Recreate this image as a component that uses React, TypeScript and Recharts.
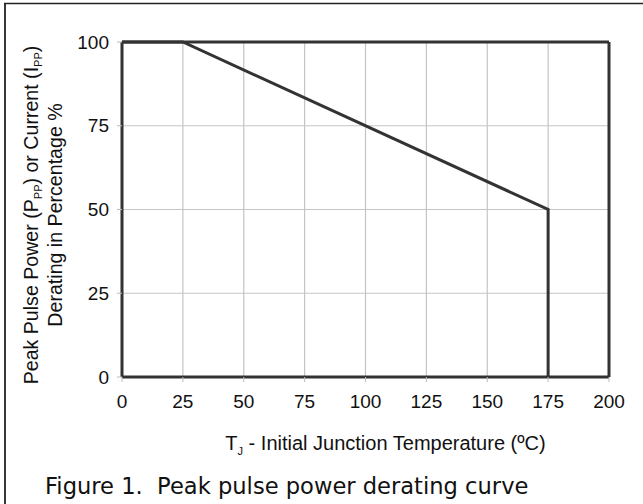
import React from 'react';
import { LineChart, Line, XAxis, YAxis, CartesianGrid, ReferenceLine, Label } from 'recharts';

const temps = [0, 25, 175, 175];
const derating = [100, 100, 50, 0];
const xTicks = [0, 25, 50, 75, 100, 125, 150, 175, 200];
const yTicks = [0, 25, 50, 75, 100];

const data = temps.map((t, i) => ({ t, pct: derating[i] }));

const axisFont = '"Liberation Sans", Arial, sans-serif';

const XLabel = (props: any) => {
  const vb = props.viewBox || {};
  const cx = vb.x + vb.width / 2 + 20;
  return (
    <text x={cx} y={450} textAnchor="middle" fontFamily={axisFont} fontSize={20} fill="#111">
      T<tspan fontSize={11} dy={5}>J</tspan>
      <tspan dy={-5}> - Initial Junction Temperature (ºC)</tspan>
    </text>
  );
};

const YLabel = () => {
  const cy = 215;
  return (
    <g transform={`rotate(-90, 38, ${cy})`}>
      <text x={38} y={cy} textAnchor="middle" fontFamily={axisFont} fontSize={19.6} fill="#111">
        Peak Pulse Power (P<tspan fontSize={11} dy={4}>PP</tspan>
        <tspan dy={-4}>) or Current (I</tspan>
        <tspan fontSize={11} dy={4}>PP</tspan>
        <tspan dy={-4}>)</tspan>
      </text>
      <text x={38} y={cy + 24} textAnchor="middle" fontFamily={axisFont} fontSize={19.6} fill="#111">
        Derating in Percentage %
      </text>
    </g>
  );
};

export default function App() {
  return (
    <div style={{ position: 'fixed', left: 0, top: 0, width: 643, height: 504, background: '#fff' }}>
      <LineChart
        width={643}
        height={504}
        data={data}
        margin={{ top: 42, right: 34, bottom: 0, left: 0 }}
      >
        <CartesianGrid stroke="#c4c4c4" strokeWidth={1.2} />
        <XAxis
          dataKey="t"
          type="number"
          domain={[0, 200]}
          ticks={xTicks}
          height={127}
          tickSize={5}
          tickMargin={13}
          axisLine={{ stroke: '#333', strokeWidth: 3 }}
          tickLine={{ stroke: '#bbb' }}
          tick={{ fontFamily: axisFont, fontSize: 19, fill: '#111' }}
        >
          <Label content={<XLabel />} />
        </XAxis>
        <YAxis
          type="number"
          domain={[0, 100]}
          ticks={yTicks}
          width={122}
          tickSize={5}
          tickMargin={8}
          axisLine={{ stroke: '#333', strokeWidth: 3 }}
          tickLine={{ stroke: '#bbb' }}
          tick={{ fontFamily: axisFont, fontSize: 19, fill: '#111' }}
        >
          <Label content={<YLabel />} />
        </YAxis>
        <ReferenceLine y={100} stroke="#333" strokeWidth={3} />
        <ReferenceLine x={200} stroke="#333" strokeWidth={3} />
        <Line
          dataKey="pct"
          type="linear"
          stroke="#333"
          strokeWidth={3}
          dot={false}
          isAnimationActive={false}
        />
      </LineChart>
      <svg width={643} height={504} style={{ position: 'absolute', left: 0, top: 0, pointerEvents: 'none' }}>
        <line x1={4} y1={3.5} x2={643} y2={3.5} stroke="#222" strokeWidth={1.6} />
        <line x1={5} y1={3} x2={5} y2={504} stroke="#222" strokeWidth={1.8} />
        <text x={45} y={494} fontFamily='"DejaVu Sans", sans-serif' fontSize={22.6} fill="#111">
          Figure 1.{'\u00a0\u00a0'}Peak pulse power derating curve
        </text>
      </svg>
    </div>
  );
}
